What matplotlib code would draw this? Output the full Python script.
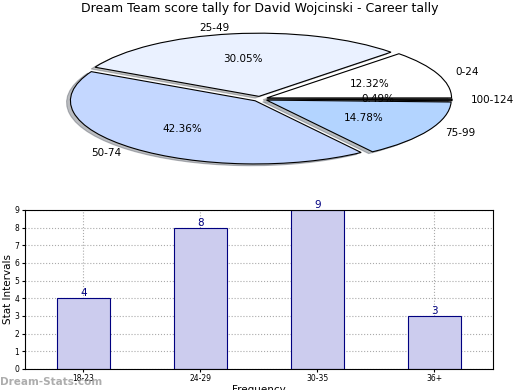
import numpy as np
from matplotlib import pyplot as plt

pie_labels = ['0-24', '25-49', '50-74', '75-99', '100-124']
pie_values = [12.32, 30.05, 42.36, 14.78, 0.49]
pie_colors = ['#ffffff', '#eaf1ff', '#c4d7ff', '#b3d4ff', '#222222']

age_groups = ['18-23', '24-29', '30-35', '36+']
counts = [4, 8, 9, 3]

fig = plt.figure(figsize=(5.2, 3.9), dpi=100)

ax1 = fig.add_axes([0.056, 0.544, 0.888, 0.405])
wedges, texts, autotexts = ax1.pie(pie_values, labels=pie_labels, colors=pie_colors,
                                   explode=[0.04] * 5,
                                   shadow={'ox': -0.015, 'oy': -0.02, 'alpha': 0.35},
                                   autopct='%1.2f%%',
                                   wedgeprops={'edgecolor': 'black', 'linewidth': 0.8},
                                   textprops={'fontsize': 7.5})
ax1.set_aspect('auto')
ax1.set_xlim(-1.25, 1.25)
ax1.set_ylim(-1.25, 1.25)
fig.suptitle('Dream Team score tally for David Wojcinski - Career tally',
             fontsize=9, y=0.995)

ax2 = fig.add_axes([0.048, 0.054, 0.9, 0.4077])
x = np.arange(len(age_groups))
ax2.bar(x, counts, width=0.45, color='#ccccee', edgecolor='navy', linewidth=0.8, zorder=2)
for i in range(len(counts)):
    ax2.text(x[i], counts[i], str(counts[i]), ha='center', va='bottom',
             color='navy', fontsize=7.5)
ax2.set_xlim(-0.5, 3.5)
ax2.set_ylim(0, 9)
ax2.set_yticks(range(10))
ax2.set_xticks(x)
ax2.set_xticklabels(age_groups)
ax2.tick_params(labelsize=5.5, length=2, pad=2)
ax2.grid(color='#aaaaaa', linestyle=':', linewidth=0.8, zorder=0)
ax2.set_ylabel('Stat Intervals', fontsize=7.5, labelpad=1)
ax2.set_xlabel('Frequency', fontsize=7.5, labelpad=1)

fig.text(0.0, 0.012, 'Dream-Stats.com', fontsize=7.5, color='#999999',
         fontweight='bold', alpha=0.8)

plt.savefig('out.png')
